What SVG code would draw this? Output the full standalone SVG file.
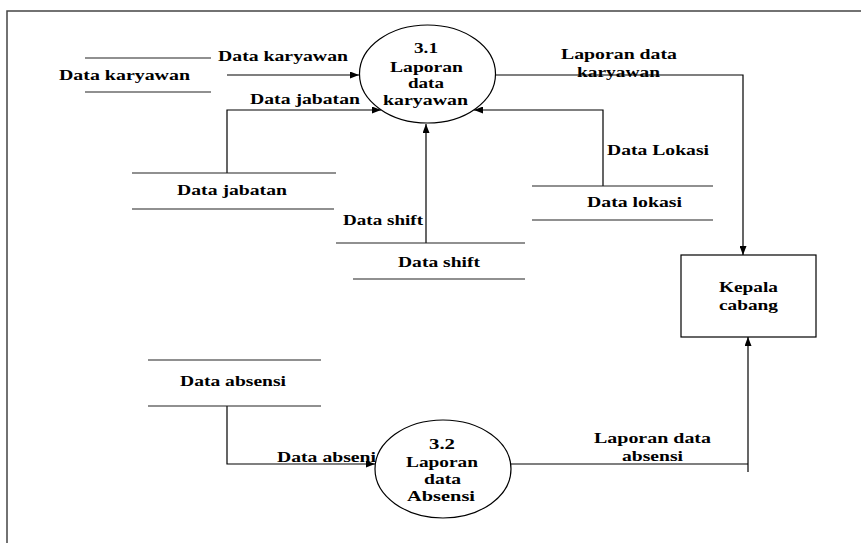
<svg xmlns="http://www.w3.org/2000/svg" width="861" height="543" viewBox="0 0 861 543">
<style>
text{font-family:"Liberation Serif","Times New Roman",serif;font-weight:bold;font-size:15px;fill:#000}
.ln{stroke:#000;stroke-width:1.2;fill:none}
.st{stroke:#222;stroke-width:1.2}
.fr{stroke:#444;stroke-width:1.5;fill:none}
.pr{fill:#fff;stroke:#000;stroke-width:1.2}
</style>
<defs>
<marker id="ah" markerUnits="userSpaceOnUse" markerWidth="9" markerHeight="7" refX="9" refY="3.5" orient="auto">
<path d="M0,0 L9,3.5 L0,7 z" fill="#000"/>
</marker>
</defs>
<rect width="861" height="543" fill="#fff"/>
<path class="fr" d="M7,543 V11 H861"/>
<g id="connectors">
<path class="ln" d="M227,75 H359" marker-end="url(#ah)"/>
<path class="ln" d="M227,173 V110 H381" marker-end="url(#ah)"/>
<path class="ln" d="M426,243 V124" marker-end="url(#ah)"/>
<path class="ln" d="M603,186 V110 H474" marker-end="url(#ah)"/>
<path class="ln" d="M496,75 H743 V255" marker-end="url(#ah)"/>
<path class="ln" d="M227,406 V464 H375" marker-end="url(#ah)"/>
<path class="ln" d="M511,464 H748"/>
<path class="ln" d="M748,472 V337" marker-end="url(#ah)"/>
<text x="218" y="61" textLength="130" lengthAdjust="spacingAndGlyphs">Data karyawan</text>
<text x="250" y="104" textLength="110" lengthAdjust="spacingAndGlyphs">Data jabatan</text>
<text x="343" y="225" textLength="80" lengthAdjust="spacingAndGlyphs">Data shift</text>
<text x="607" y="155" textLength="102" lengthAdjust="spacingAndGlyphs">Data Lokasi</text>
<text x="561" y="59" textLength="116" lengthAdjust="spacingAndGlyphs">Laporan data</text>
<text x="577" y="77" textLength="83" lengthAdjust="spacingAndGlyphs">karyawan</text>
<text x="277" y="462" textLength="99" lengthAdjust="spacingAndGlyphs">Data abseni</text>
<text x="594" y="443" textLength="117" lengthAdjust="spacingAndGlyphs">Laporan data</text>
<text x="622" y="461" textLength="61" lengthAdjust="spacingAndGlyphs">absensi</text>
</g>
<g id="p31">
<ellipse class="pr" cx="427.5" cy="74" rx="68" ry="49"/>
<text x="414" y="53" textLength="24" lengthAdjust="spacingAndGlyphs">3.1</text>
<text x="390" y="72" textLength="73" lengthAdjust="spacingAndGlyphs">Laporan</text>
<text x="408" y="88" textLength="36" lengthAdjust="spacingAndGlyphs">data</text>
<text x="383" y="105" textLength="85" lengthAdjust="spacingAndGlyphs">karyawan</text>
</g>
<g id="p32">
<ellipse class="pr" cx="443" cy="469" rx="68" ry="49"/>
<text x="429" y="449" textLength="26" lengthAdjust="spacingAndGlyphs">3.2</text>
<text x="406" y="467" textLength="72" lengthAdjust="spacingAndGlyphs">Laporan</text>
<text x="424" y="484" textLength="37" lengthAdjust="spacingAndGlyphs">data</text>
<text x="407" y="501" textLength="68" lengthAdjust="spacingAndGlyphs">Absensi</text>
</g>
<g id="ds-karyawan">
<line class="st" x1="85" y1="58" x2="211" y2="58"/>
<line class="st" x1="85" y1="92" x2="211" y2="92"/>
<text x="59" y="80" textLength="131" lengthAdjust="spacingAndGlyphs">Data karyawan</text>
</g>
<g id="ds-jabatan">
<line class="st" x1="132" y1="173" x2="336" y2="173"/>
<line class="st" x1="132" y1="209" x2="334" y2="209"/>
<text x="177" y="195" textLength="110" lengthAdjust="spacingAndGlyphs">Data jabatan</text>
</g>
<g id="ds-shift">
<line class="st" x1="336" y1="243" x2="525" y2="243"/>
<line class="st" x1="353" y1="279" x2="525" y2="279"/>
<text x="398" y="267" textLength="82" lengthAdjust="spacingAndGlyphs">Data shift</text>
</g>
<g id="ds-lokasi">
<line class="st" x1="532" y1="186" x2="713" y2="186"/>
<line class="st" x1="532" y1="220" x2="713" y2="220"/>
<text x="587" y="207" textLength="95" lengthAdjust="spacingAndGlyphs">Data lokasi</text>
</g>
<g id="ds-absensi">
<line class="st" x1="148" y1="360" x2="321" y2="360"/>
<line class="st" x1="148" y1="406" x2="321" y2="406"/>
<text x="180" y="386" textLength="106" lengthAdjust="spacingAndGlyphs">Data absensi</text>
</g>
<g id="kepala">
<rect class="pr" x="681" y="255" width="135" height="82"/>
<text x="719" y="292" textLength="59" lengthAdjust="spacingAndGlyphs">Kepala</text>
<text x="719" y="310" textLength="59" lengthAdjust="spacingAndGlyphs">cabang</text>
</g>
</svg>
